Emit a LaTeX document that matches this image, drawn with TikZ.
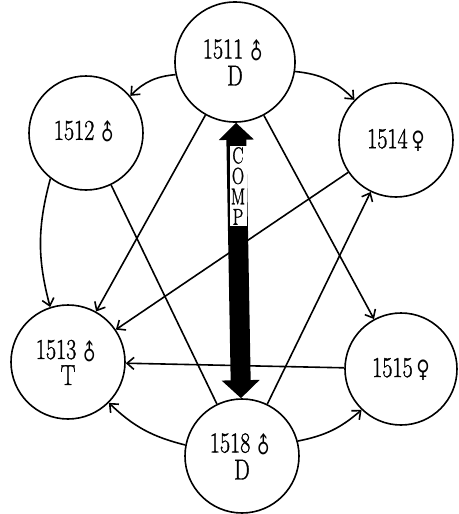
\documentclass[tikz,border=0pt]{standalone}
\usepackage{fontspec}
\usepackage{graphicx}
\newfontfamily\symf{DejaVu Sans}
\newfontfamily\labf{Latin Modern Roman}[FakeBold=1.4]
\usetikzlibrary{arrows.meta}
\newcommand\tallt[1]{\scalebox{0.92}[1.2]{#1}}
\newcommand\ml{\,\raisebox{-0.1ex}{\rotatebox[origin=c]{45}{\symf\fontsize{19}{19}\selectfont ♂}}}
\newcommand\fm{\,{\symf\fontsize{20}{20}\selectfont ♀}}
\newcommand\cl[1]{\scalebox{0.8}[1.1]{#1}}
\begin{document}
\begin{tikzpicture}[x=1pt,y=-1pt,
  person/.style={circle, draw, line width=1.6pt, minimum size=114pt, inner sep=0pt,
    align=center, font=\labf\fontsize{24}{26}\selectfont},
  link/.style={line width=1.6pt, -{Straight Barb[length=7pt,width=12pt,line width=1.6pt]}},
  plainlink/.style={line width=1.6pt},
  bigarrow/.style={line width=20pt, {Triangle[length=17pt,width=34pt]}-{Triangle[length=18pt,width=37pt]}},
  complabel/.style={fill=white, inner xsep=0pt, inner ysep=1.5pt, minimum width=17pt,
    align=center, font=\labf\fontsize{21}{20.5}\selectfont}]
\useasboundingbox (0,0) rectangle (458,514);
\node[person, minimum size=120pt] (n1511) at (235,62) {\tallt{1511\ml}\\\tallt{D}};
\node[person] (n1512) at (86,133) {\tallt{1512\ml}};
\node[person] (n1514) at (396,140) {\tallt{1514\fm}};
\node[person] (n1513) at (68,362) {\tallt{1513\ml}\\\tallt{T}};
\node[person, minimum size=112pt] (n1515) at (401,369) {\tallt{1515\fm}};
\node[person] (n1518) at (242,456) {\tallt{1518\ml}\\\tallt{D}};

\draw[bigarrow] (n1511) -- (n1518);
\node[complabel] (comp) at (238,186) {\cl{C}\\\cl{O}\\\cl{M}\\\cl{P}};

\draw[link] (n1511.192) to[bend right=20] (n1512.40);
\draw[link] (n1511.351) to[bend left=20] (n1514.136);
\draw[link] (n1512.232) to[bend right=15] (n1513.108);
\draw[link] (n1511) -- (n1513);
\draw[link] (n1514) -- (n1513);
\draw[plainlink] (n1512) -- (n1518);
\draw[link] (n1511) -- (n1515);
\draw[link] (n1518) -- (n1514);
\draw[link] (n1515) -- (n1513);
\draw[link] (n1518.169) to[bend left=15] (n1513.315);
\draw[link] (n1518.15) to[bend right=15] (n1515.226);
\end{tikzpicture}
\end{document}
